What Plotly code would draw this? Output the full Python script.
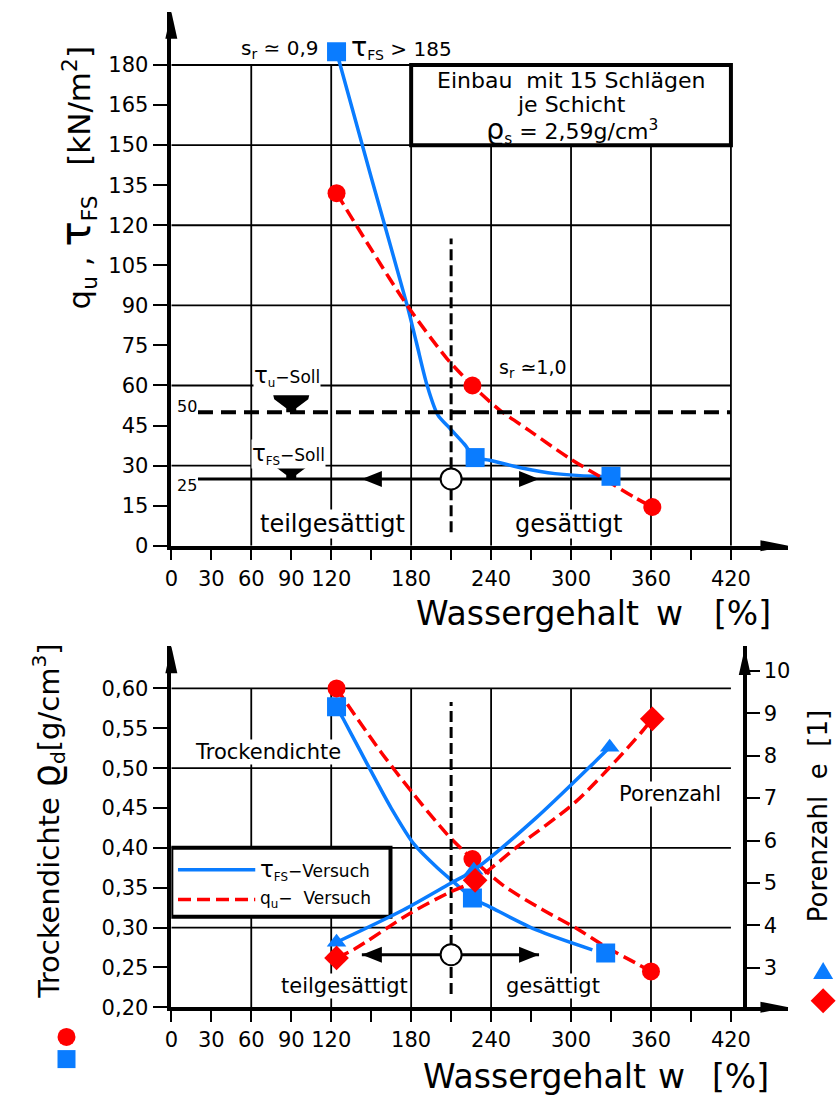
import plotly.graph_objects as go

FONT = "DejaVu Sans"
BLUE = "#0a7cff"
RED = "#ff0000"
W, H = 840, 1108

# ---------------- water content axis (shared) ----------------
w_ticks = [0, 30, 60, 90, 120, 150, 180, 210, 240, 270, 300, 330, 360, 390, 420]
w_labels = ["0", "30", "60", "90", "120", "", "180", "", "240", "", "300", "", "360", "", "420"]
w_grid = [60, 120, 180, 240, 300, 360, 420]

# ---------------- upper panel: strength ----------------
strength_ticks = [0, 15, 30, 45, 60, 75, 90, 105, 120, 135, 150, 165, 180]
strength_labels = ["0", "15", "30", "45", "60", "75", "90", "105", "120", "135", "150", "165", "180"]
strength_grid = [30, 60, 90, 120, 150, 180]

# vane shear tests (tau_FS)
w_tfs = [124, 228, 330]
tau_fs = [185, 33, 26]
w_tfs_fit = [124, 150, 177, 184, 192, 200, 209, 220, 228, 239, 264, 288, 318, 330]
tau_fs_fit = [185, 138, 90, 76, 60, 49, 44, 38, 33, 32, 29, 27, 26, 26]

# unconfined compression tests (q_u)
w_qu = [124, 226, 361]
q_u = [132, 60, 14.5]
w_qu_fit = [124, 150, 177, 207, 226, 246, 269, 298, 328, 348, 361]
q_u_fit = [132, 111, 90, 70, 60, 51, 43, 33, 24, 18, 14.5]

# required strengths
tau_u_soll = 50
tau_fs_soll = 25
soll_w = [20, 420]

# boundary partially saturated / saturated
w_sat = 210
sat_span_top = [5, 115]
sat_span_bottom = [0.2165, 0.583]
flow_w = [143, 276]
flow_rho = 0.266

# ---------------- lower panel: dry density and void ratio ----------------
rho_ticks = [0.20, 0.25, 0.30, 0.35, 0.40, 0.45, 0.50, 0.55, 0.60]
rho_labels = ["0,20", "0,25", "0,30", "0,35", "0,40", "0,45", "0,50", "0,55", "0,60"]
rho_grid = [0.30, 0.40, 0.50, 0.60]
e_ticks = [3, 4, 5, 6, 7, 8, 9, 10]
e_labels = ["3", "4", "5", "6", "7", "8", "9", "10"]

w_rho_tfs = [124, 226, 326]
rho_tfs = [0.577, 0.337, 0.268]
w_rho_tfs_fit = [124, 129, 142, 150, 165, 182, 199, 212, 226, 239, 274, 316]
rho_tfs_fit = [0.577, 0.562, 0.521, 0.496, 0.450, 0.405, 0.376, 0.357, 0.337, 0.326, 0.297, 0.272]

w_rho_qu = [124, 226, 360]
rho_qu = [0.600, 0.386, 0.245]
w_rho_qu_fit = [124, 157, 182, 207, 226, 249, 279, 303, 328, 348, 360]
rho_qu_fit = [0.600, 0.521, 0.467, 0.417, 0.386, 0.353, 0.322, 0.300, 0.274, 0.256, 0.245]

w_e_tfs = [124, 227, 329]
e_tfs = [3.6, 5.3, 8.2]
w_e_tfs_fit = [124, 174, 209, 227, 274, 318, 329]
e_tfs_fit = [3.6, 4.36, 4.98, 5.3, 6.54, 7.86, 8.2]

w_e_qu = [124, 228, 361]
e_qu = [3.23, 5.06, 8.87]
w_e_qu_fit = [124, 137, 179, 207, 228, 259, 303, 333, 353, 361]
e_qu_fit = [3.23, 3.43, 4.28, 4.75, 5.06, 5.84, 6.9, 7.86, 8.56, 8.87]


def px(x):
    return x / W


def py(y):
    return 1 - y / H


X_DOM = [px(165.7), px(788)]
Y_TOP_DOM = [py(551.7), py(12)]
Y_BOT_DOM = [py(1018.3), py(653.3)]
X_RANGE = [0, 463.16]

fig = go.Figure()

# ---------- upper panel traces ----------
fig.add_trace(go.Scatter(x=w_tfs_fit, y=tau_fs_fit, mode="lines", line=dict(color=BLUE, width=3.5, shape="spline", smoothing=0.8),
                         xaxis="x", yaxis="y", hoverinfo="skip"))
fig.add_trace(go.Scatter(x=w_qu_fit, y=q_u_fit, mode="lines", line=dict(color=RED, width=3.5, dash="13px,6px", shape="spline", smoothing=0.8),
                         xaxis="x", yaxis="y", hoverinfo="skip"))
fig.add_trace(go.Scatter(x=soll_w, y=[tau_u_soll, tau_u_soll], mode="lines", line=dict(color="black", width=4, dash="15px,8px"),
                         xaxis="x", yaxis="y", hoverinfo="skip"))
fig.add_trace(go.Scatter(x=soll_w, y=[tau_fs_soll, tau_fs_soll], mode="lines", line=dict(color="black", width=3),
                         xaxis="x", yaxis="y", hoverinfo="skip"))
fig.add_trace(go.Scatter(x=[w_sat, w_sat], y=sat_span_top, mode="lines", line=dict(color="black", width=3, dash="11px,5px"),
                         xaxis="x", yaxis="y", hoverinfo="skip"))
fig.add_trace(go.Scatter(x=w_tfs, y=tau_fs, mode="markers", marker=dict(symbol="square", size=19, color=BLUE),
                         xaxis="x", yaxis="y"))
fig.add_trace(go.Scatter(x=w_qu, y=q_u, mode="markers", marker=dict(symbol="circle", size=18, color=RED),
                         xaxis="x", yaxis="y"))
fig.add_trace(go.Scatter(x=[w_sat], y=[tau_fs_soll], mode="markers",
                         marker=dict(symbol="circle", size=21, color="white", line=dict(color="black", width=2)),
                         xaxis="x", yaxis="y"))

# ---------- lower panel traces ----------
fig.add_trace(go.Scatter(x=w_rho_tfs_fit, y=rho_tfs_fit, mode="lines", line=dict(color=BLUE, width=3.5, shape="spline", smoothing=0.8),
                         xaxis="x2", yaxis="y2", hoverinfo="skip"))
fig.add_trace(go.Scatter(x=w_rho_qu_fit, y=rho_qu_fit, mode="lines", line=dict(color=RED, width=3.5, dash="13px,6px", shape="spline", smoothing=0.8),
                         xaxis="x2", yaxis="y2", hoverinfo="skip"))
fig.add_trace(go.Scatter(x=[w_sat, w_sat], y=sat_span_bottom, mode="lines", line=dict(color="black", width=3, dash="11px,5px"),
                         xaxis="x2", yaxis="y2", hoverinfo="skip"))
fig.add_trace(go.Scatter(x=flow_w, y=[flow_rho, flow_rho], mode="lines", line=dict(color="black", width=3),
                         xaxis="x2", yaxis="y2", hoverinfo="skip"))
fig.add_trace(go.Scatter(x=w_rho_tfs, y=rho_tfs, mode="markers", marker=dict(symbol="square", size=19, color=BLUE),
                         xaxis="x2", yaxis="y2"))
fig.add_trace(go.Scatter(x=w_rho_qu, y=rho_qu, mode="markers", marker=dict(symbol="circle", size=18, color=RED),
                         xaxis="x2", yaxis="y2"))
fig.add_trace(go.Scatter(x=[w_sat], y=[flow_rho], mode="markers",
                         marker=dict(symbol="circle", size=21, color="white", line=dict(color="black", width=2)),
                         xaxis="x2", yaxis="y2"))
fig.add_trace(go.Scatter(x=w_e_tfs_fit, y=e_tfs_fit, mode="lines", line=dict(color=BLUE, width=3.5, shape="spline", smoothing=0.8),
                         xaxis="x2", yaxis="y3", hoverinfo="skip"))
fig.add_trace(go.Scatter(x=w_e_qu_fit, y=e_qu_fit, mode="lines", line=dict(color=RED, width=3.5, dash="13px,6px", shape="spline", smoothing=0.8),
                         xaxis="x2", yaxis="y3", hoverinfo="skip"))
fig.add_trace(go.Scatter(x=w_e_tfs, y=e_tfs, mode="markers", marker=dict(symbol="triangle-up", size=17, color=BLUE),
                         xaxis="x2", yaxis="y3"))
fig.add_trace(go.Scatter(x=w_e_qu, y=e_qu, mode="markers", marker=dict(symbol="diamond", size=19, color=RED),
                         xaxis="x2", yaxis="y3"))

# ---------- shapes: grid, boxes, arrows, symbols ----------
shapes = []
GRID = dict(color="black", width=1.8)
for g in w_grid:
    shapes.append(dict(type="line", xref="x", yref="y", x0=g, x1=g, y0=0, y1=180, line=GRID, layer="below"))
for g in strength_grid:
    shapes.append(dict(type="line", xref="x", yref="y", x0=0, x1=420, y0=g, y1=g, line=GRID, layer="below"))
for g in w_grid[:-1]:
    shapes.append(dict(type="line", xref="x2", yref="y2", x0=g, x1=g, y0=0.2, y1=0.6, line=GRID, layer="below"))
for g in rho_grid:
    shapes.append(dict(type="line", xref="x2", yref="y2", x0=0, x1=420, y0=g, y1=g, line=GRID, layer="below"))

# info box and legend box
shapes.append(dict(type="rect", xref="x", yref="y", x0=180, x1=420, y0=150, y1=180,
                   fillcolor="white", line=dict(color="black", width=4), layer="below"))
shapes.append(dict(type="rect", xref="x2", yref="y2", x0=0, x1=164.5, y0=0.3137, y1=0.40,
                   fillcolor="white", line=dict(color="black", width=4), layer="below"))
# legend samples
shapes.append(dict(type="line", xref="x2", yref="y2", x0=5, x1=63, y0=0.3725, y1=0.3725, line=dict(color=BLUE, width=3.5)))
shapes.append(dict(type="line", xref="x2", yref="y2", x0=5, x1=63, y0=0.3353, y1=0.3353, line=dict(color=RED, width=3.5, dash="13px,6px")))


def pix_path(xref, yref, xa, ya, path):
    return dict(type="path", xref=xref, yref=yref, xsizemode="pixel", ysizemode="pixel",
                xanchor=xa, yanchor=ya, path=path, fillcolor="black", line=dict(width=0))


UP = "M0,0 L-6,-27 L6,-27 Z"
RIGHT = "M0,0 L-28,5.5 L-28,-5.5 Z"
shapes.append(pix_path("paper", "paper", px(165.7), py(12), UP))
shapes.append(pix_path("paper", "paper", px(788), py(551.7), RIGHT))
shapes.append(pix_path("paper", "paper", px(165.7), py(653.3), UP))
shapes.append(pix_path("paper", "paper", px(744), py(655), UP))
shapes.append(pix_path("paper", "paper", px(788), py(1018.3), RIGHT))

# flow direction arrows on the saturation line
LEFT_HEAD = "M0,0 L20,8 L20,-8 Z"
RIGHT_HEAD = "M0,0 L-20,8 L-20,-8 Z"
shapes.append(pix_path("x", "y", flow_w[0], tau_fs_soll, LEFT_HEAD))
shapes.append(pix_path("x", "y", flow_w[1], tau_fs_soll, RIGHT_HEAD))
shapes.append(pix_path("x2", "y2", flow_w[0], flow_rho, LEFT_HEAD))
shapes.append(pix_path("x2", "y2", flow_w[1], flow_rho, RIGHT_HEAD))

# water-level symbols on the required strength lines
LEVEL = "M-18,17 L18,17 L17,13 L5,4 L5,0 L-5,0 L-5,4 L-17,13 Z"
shapes.append(pix_path("x", "y", 90, tau_u_soll, LEVEL))
shapes.append(pix_path("x", "y", 90, tau_fs_soll, LEVEL))

# key symbols next to the axis titles
shapes.append(dict(type="circle", xref="paper", yref="paper", xsizemode="pixel", ysizemode="pixel",
                   xanchor=px(60), yanchor=py(1048.3), x0=-9, x1=9, y0=-9, y1=9, fillcolor=RED, line=dict(width=0)))
shapes.append(dict(type="rect", xref="paper", yref="paper", xsizemode="pixel", ysizemode="pixel",
                   xanchor=px(60), yanchor=py(1070.7), x0=-9, x1=9, y0=-9, y1=9, fillcolor=BLUE, line=dict(width=0)))
tri = pix_path("paper", "paper", px(823), py(981.7), "M-10,-8 L10,-8 L0,9 Z")
tri["fillcolor"] = BLUE
shapes.append(tri)
dia = pix_path("paper", "paper", px(823), py(1011.7), "M0,12.5 L12.5,0 L0,-12.5 L-12.5,0 Z")
dia["fillcolor"] = RED
shapes.append(dia)

# ---------- annotations ----------
ann = []


def text(t, x, y, size, xref="paper", yref="paper", angle=0, xanchor="center", bg=None):
    d = dict(text=t, x=x, y=y, xref=xref, yref=yref, showarrow=False, textangle=angle,
             xanchor=xanchor, yanchor="middle", font=dict(family=FONT, size=size, color="black"))
    if bg:
        d["bgcolor"] = bg
        d["borderpad"] = 0
    ann.append(d)


NB = "\u00a0"
TAU = '<span style="font-size:1.35em">τ</span>'
RHO = '<span style="font-size:1.3em">ϱ</span>'

# upper panel
text("q<sub>u</sub>" + NB + "," + NB + TAU + "<sub>FS</sub>" + NB * 3 + "[kN/m<sup>2</sup>]", px(70), py(180), 31, angle=-90)
text("Wassergehalt", px(525), py(620), 33)
text("w", px(668), py(620), 33)
text("[%]", px(742), py(620), 33)
text("s<sub>r</sub>" + NB + "≃" + NB + "0,9", px(316), py(50), 20, xanchor="right")
text(TAU + "<sub>FS</sub>" + NB + ">" + NB + "185", px(345), py(48), 20, xanchor="left")
text("s<sub>r</sub>" + NB + "≃1,0", px(530), py(373), 19)
text("Einbau" + NB * 2 + "mit" + NB + "15" + NB + "Schlägen", px(569.5), py(81), 22)
text("je" + NB + "Schicht", px(569.5), py(106), 22)
text(RHO + "<sub>s</sub>" + NB + "=" + NB + "2,59g/cm<sup>3</sup>", px(569.5), py(131), 22)
text(TAU + "<sub>u</sub>−Soll", 87, 63.6, 17, xref="x", yref="y", bg="white")
text(TAU + "<sub>FS</sub>−Soll", 88, 34.3, 17, xref="x", yref="y", bg="white")
text("50", 11.4, 52.1, 16, xref="x", yref="y")
text("25", 11.4, 22.5, 16, xref="x", yref="y")
text("teilgesättigt", 120.8, 8.2, 24, xref="x", yref="y", bg="white")
text("gesättigt", 298, 8.2, 24, xref="x", yref="y", bg="white")

# lower panel
text("Trockendichte" + NB + RHO + "<sub>d</sub>[g/cm<sup>3</sup>]", px(40), py(830), 29, angle=-90)
text("Porenzahl" + NB * 2 + "e" + NB * 2 + "[1]", px(818), py(825), 26, angle=-90)
text("Wassergehalt", px(532), py(1088), 33)
text("w", px(670), py(1088), 33)
text("[%]", px(740), py(1088), 33)
text("Trockendichte", 72.3, 0.52, 21, xref="x2", yref="y2", bg="white")
text("Porenzahl", 374, 0.467, 21, xref="x2", yref="y2", bg="white")
text("teilgesättigt", 130, 0.2268, 21, xref="x2", yref="y2", bg="white")
text("gesättigt", 286.8, 0.2268, 21, xref="x2", yref="y2", bg="white")
text(TAU + "<sub>FS</sub>−Versuch", 65, 0.3725, 17, xref="x2", yref="y2", xanchor="left")
text("q<sub>u</sub>−" + NB * 2 + "Versuch", 65, 0.3353, 17, xref="x2", yref="y2", xanchor="left")

TICKFONT = dict(family=FONT, size=21, color="black")
AX = dict(showgrid=False, zeroline=False, showline=True, linecolor="black", linewidth=3.5,
          ticks="outside", tickcolor="black", tickwidth=2, tickfont=TICKFONT, fixedrange=True)

fig.update_layout(
    width=W, height=H, margin=dict(l=0, r=0, t=0, b=0),
    paper_bgcolor="white", plot_bgcolor="rgba(0,0,0,0)", showlegend=False,
    xaxis=dict(AX, domain=X_DOM, range=X_RANGE, anchor="y", tickvals=w_ticks, ticktext=w_labels,
               ticklen=11, tickangle=0),
    yaxis=dict(AX, domain=Y_TOP_DOM, range=[0, 199.9], anchor="x", tickvals=strength_ticks,
               ticktext=strength_labels, ticklen=15),
    xaxis2=dict(AX, domain=X_DOM, range=X_RANGE, anchor="y2", tickvals=w_ticks, ticktext=w_labels,
                ticklen=11, tickangle=0),
    yaxis2=dict(AX, domain=Y_BOT_DOM, range=[0.2, 0.653], anchor="x2", tickvals=rho_ticks,
                ticktext=rho_labels, ticklen=15),
    yaxis3=dict(AX, domain=Y_BOT_DOM, range=[2.0667, 10.5833], overlaying="y2", anchor="free",
                position=px(744), side="right", tickvals=e_ticks, ticktext=e_labels, ticklen=13),
    shapes=shapes, annotations=ann,
)

fig.write_html("out.html")
